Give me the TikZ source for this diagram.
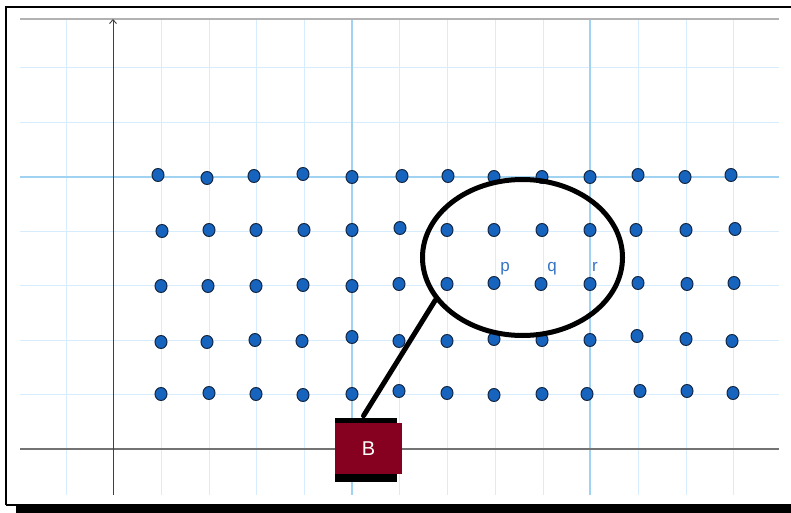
\documentclass[tikz,border=0pt]{standalone}
\usepackage{fontspec}
\setmainfont{Liberation Sans}
\usetikzlibrary{arrows.meta,shapes.geometric}
\definecolor{gridblue}{RGB}{215,236,252}
\definecolor{gridmark}{RGB}{160,210,242}
\definecolor{dotblue}{RGB}{22,100,190}
\definecolor{dotedge}{RGB}{20,38,65}
\definecolor{labelblue}{RGB}{55,115,195}
\definecolor{boxred}{RGB}{134,0,32}

\begin{document}
\begin{tikzpicture}[
  x=1pt, y=-1pt,
  dot/.style={
    ellipse,
    draw=dotedge,
    fill=dotblue,
    line width=1pt,
    minimum width=12pt,
    minimum height=13pt,
    inner sep=0pt
  },
  lbl/.style={
    text=labelblue,
    anchor=base,
    inner sep=0pt,
    font=\fontsize{17}{17}\selectfont
  },
  gridline/.style={gridblue, line width=1pt},
  markline/.style={gridmark, line width=1.2pt}
]
  \useasboundingbox (0,0) rectangle (791,513);

  \foreach \i in {0,...,14}
    \draw[gridline] ({66+47.71*\i},19) -- ({66+47.71*\i},495);
  \foreach \j in {0,...,6}
    \draw[gridline] (20,{68+54.43*\j}) -- (779,{68+54.43*\j});
  \draw[markline] (352,19) -- (352,495);
  \draw[markline] (590,19) -- (590,495);
  \draw[markline] (20,177) -- (779,177);

  \draw[black!30, line width=2.5pt] (20,19) -- (779,19);
  \draw[black!55, line width=1.6pt] (20,449) -- (779,449);
  \draw[black!75, line width=0.9pt, -{Straight Barb[length=4pt,width=7pt]}] (113,495) -- (113,19);

  \draw[line width=2pt] (6,505) -- (6,7) -- (791,7);
  \draw[line width=2pt] (6,505) -- (16,505);
  \fill (16,504) rectangle (791,513);

  \foreach \x/\y [count=\i] in {
    158/175, 207/178, 254/176, 303/174, 352/177, 402/176, 448/176, 494/177, 542/177, 590/177, 638/175, 685/177, 731/175,
    162/231, 209/230, 256/230, 304/230, 352/230, 400/228, 447/230, 494/230, 542/230, 590/230, 636/230, 686/230, 735/229,
    161/286, 208/286, 256/286, 303/285, 352/286, 399/284, 447/284, 494/283, 541/284, 590/284, 638/283, 687/284, 734/283,
    161/342, 207/342, 255/340, 302/341, 352/337, 399/341, 447/341, 494/339, 542/340, 590/340, 637/336, 686/339, 732/341,
    161/394, 209/393, 256/394, 303/395, 352/394, 399/391, 447/393, 494/395, 542/394, 587/394, 640/391, 687/391, 733/393}
    \node[dot] (d\i) at (\x,\y) {};

  \node[lbl] (p) at (505,271) {p};
  \node[lbl] (q) at (552,271) {q};
  \node[lbl] (r) at (595,271) {r};

  \node[ellipse, draw, line width=5pt, minimum width=200pt, minimum height=156pt, inner sep=0pt] (lens) at (522.5,257.5) {};

  \node[fill=boxred, minimum width=67pt, minimum height=51pt, inner sep=0pt, text=white, font=\fontsize{20}{20}\selectfont] (Bbox) at (368.5,448.5) {B};
  \fill (Bbox.north west) rectangle ([xshift=-5pt,yshift=5pt]Bbox.north east);
  \fill (Bbox.south west) rectangle ([xshift=-5pt,yshift=-8pt]Bbox.south east);

  \draw[line width=5pt, line cap=round] (lens.206) -- ([xshift=-5pt,yshift=7pt]Bbox.north);
\end{tikzpicture}
\end{document}
